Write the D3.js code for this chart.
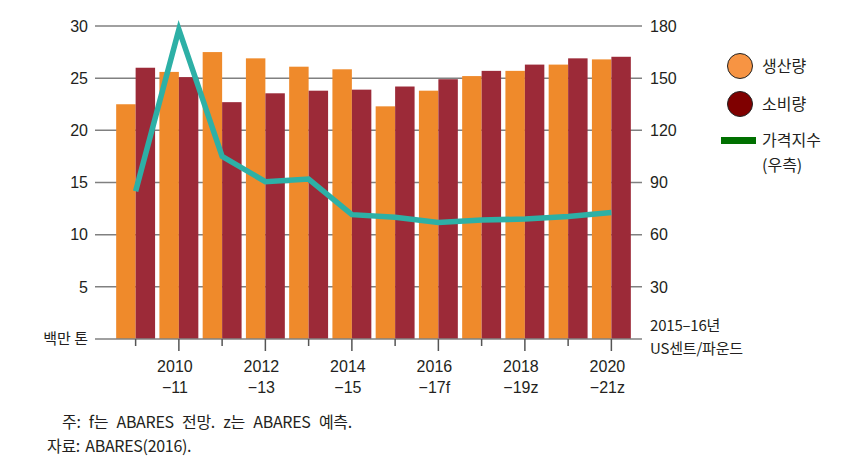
<!DOCTYPE html>
<html><head><meta charset="utf-8">
<script src="https://cdn.jsdelivr.net/npm/d3@7"></script>
<style>
body{margin:0;background:#fff;}
text{font-family:"Liberation Sans",Arial,sans-serif;fill:#231f20;}
.kr{font-family:"Noto Sans CJK KR","Liberation Sans",sans-serif;}
</style></head>
<body><svg id="c" width="866" height="470"></svg>
<script>
const categories = ["2009–10","2010–11","2011–12","2012–13","2013–14","2014–15","2015–16","2016–17f","2017–18z","2018–19z","2019–20z","2020–21z"];
const production = [22.5,25.6,27.5,26.9,26.1,25.85,22.3,23.8,25.2,25.7,26.3,26.8];
const consumption = [26.0,25.1,22.7,23.55,23.8,23.9,24.2,24.9,25.7,26.3,26.9,27.05];
const priceIndex = [85,178,105,90.5,92,71.5,70,67,68.4,69,70.5,72.8];
const leftTicks = [5,10,15,20,25,30];
const rightTicks = [30,60,90,120,150,180];
const xLabelTop = ["2010","2012","2014","2016","2018","2020"];
const xLabelBottom = ["−11","−13","−15","−17f","−19z","−21z"];
const labeledCategories = ["2010–11","2012–13","2014–15","2016–17f","2018–19z","2020–21z"];
const seriesNames = ["생산량","소비량"];

const svg = d3.select("#c");
const colProd = "#ef8a2b", colCons = "#9c2a38", colLine = "#2db0a6";

const x = d3.scaleBand().domain(categories).range([114,633]).paddingInner(0.1).paddingOuter(0.05);
const xs = d3.scaleBand().domain(seriesNames).range([0,x.bandwidth()]);
const yL = d3.scaleLinear().domain([0,30]).range([339,26]);
const yR = d3.scaleLinear().domain([0,180]).range([339,26]);
const gridX0 = 95, gridX1 = 642;

// gridlines
svg.append("g").selectAll("line").data(leftTicks).join("line")
  .attr("x1",gridX0).attr("x2",gridX1).attr("y1",d=>yL(d)).attr("y2",d=>yL(d))
  .attr("stroke","#808080").attr("stroke-width",1.5);

// bars
const rows = categories.map((c,i)=>({c, vals:[{k:"생산량",v:production[i]},{k:"소비량",v:consumption[i]}]}));
const g = svg.append("g").selectAll("g").data(rows).join("g").attr("transform",d=>`translate(${x(d.c)},0)`);
g.selectAll("rect").data(d=>d.vals).join("rect")
  .attr("x",d=>xs(d.k)).attr("width",xs.bandwidth())
  .attr("y",d=>yL(d.v)).attr("height",d=>yL(0)-yL(d.v))
  .attr("fill",d=>d.k==="생산량"?colProd:colCons);

// baseline + ticks
svg.append("line").attr("x1",gridX0).attr("x2",gridX1).attr("y1",yL(0)).attr("y2",yL(0))
  .attr("stroke","#808080").attr("stroke-width",1.5);
svg.append("g").selectAll("line").data(categories).join("line")
  .attr("x1",d=>x(d)+x.bandwidth()/2).attr("x2",d=>x(d)+x.bandwidth()/2)
  .attr("y1",yL(0)).attr("y2",d=>yL(0)+(labeledCategories.includes(d)?12:7))
  .attr("stroke","#555").attr("stroke-width",1.5);

// line
const line = d3.line().x((d,i)=>x(categories[i])+x.bandwidth()/2).y(d=>yR(d));
svg.append("path").datum(priceIndex).attr("d",line).attr("fill","none")
  .attr("stroke",colLine).attr("stroke-width",5.5).attr("stroke-linejoin","miter");

// left axis labels
svg.append("g").selectAll("text").data(leftTicks).join("text")
  .attr("x",88).attr("y",d=>yL(d)).attr("dy","0.36em").attr("text-anchor","end")
  .attr("font-size",16).text(d=>d);
svg.append("text").attr("class","kr").attr("x",88).attr("y",yL(0)).attr("dy","0.36em")
  .attr("text-anchor","end").attr("font-size",15).text("백만 톤");

// right axis labels
svg.append("g").selectAll("text").data(rightTicks).join("text")
  .attr("x",650).attr("y",d=>yR(d)).attr("dy","0.36em").attr("font-size",16).text(d=>d);
svg.append("text").attr("class","kr").attr("x",650).attr("y",326).attr("dy","0.36em")
  .attr("font-size",15).attr("letter-spacing",-0.2).text("2015–16년");
svg.append("text").attr("class","kr").attr("x",650).attr("y",349).attr("dy","0.36em")
  .attr("font-size",15).attr("letter-spacing",-0.2).text("US센트/파운드");

// x labels
const xl = svg.append("g").selectAll("g").data(labeledCategories).join("g")
  .attr("transform",d=>`translate(${x(d)+x.bandwidth()/2-4},0)`);
xl.append("text").attr("y",366).attr("dy","0.36em").attr("text-anchor","middle").attr("font-size",16)
  .text((d,i)=>xLabelTop[i]);
xl.append("text").attr("y",387).attr("dy","0.36em").attr("text-anchor","middle").attr("font-size",16)
  .text((d,i)=>xLabelBottom[i]);

// legend
const lg = svg.append("g");
lg.append("circle").attr("cx",740).attr("cy",66).attr("r",12.5).attr("fill","#f79443").attr("stroke","#222").attr("stroke-width",1);
lg.append("text").attr("class","kr").attr("x",762).attr("y",66).attr("dy","0.36em").attr("font-size",16).text(seriesNames[0]);
lg.append("circle").attr("cx",740).attr("cy",104).attr("r",12.5).attr("fill","#7f0000").attr("stroke","#222").attr("stroke-width",1);
lg.append("text").attr("class","kr").attr("x",762).attr("y",104).attr("dy","0.36em").attr("font-size",16).text(seriesNames[1]);
lg.append("rect").attr("x",721).attr("y",137).attr("width",35).attr("height",7).attr("fill","#007000");
lg.append("text").attr("class","kr").attr("x",762).attr("y",140).attr("dy","0.36em").attr("font-size",16).text("가격지수");
lg.append("text").attr("class","kr").attr("x",762).attr("y",165).attr("dy","0.36em").attr("font-size",16).text("(우측)");

// notes
svg.append("text").attr("class","kr").attr("x",62).attr("y",422).attr("dy","0.36em").attr("font-size",16)
  .attr("letter-spacing",-0.3).attr("word-spacing",5).text("주: f는 ABARES 전망. z는 ABARES 예측.");
svg.append("text").attr("class","kr").attr("x",47).attr("y",446).attr("dy","0.36em").attr("font-size",16)
  .attr("letter-spacing",-0.3).attr("word-spacing",2).text("자료: ABARES(2016).");
</script></body></html>
